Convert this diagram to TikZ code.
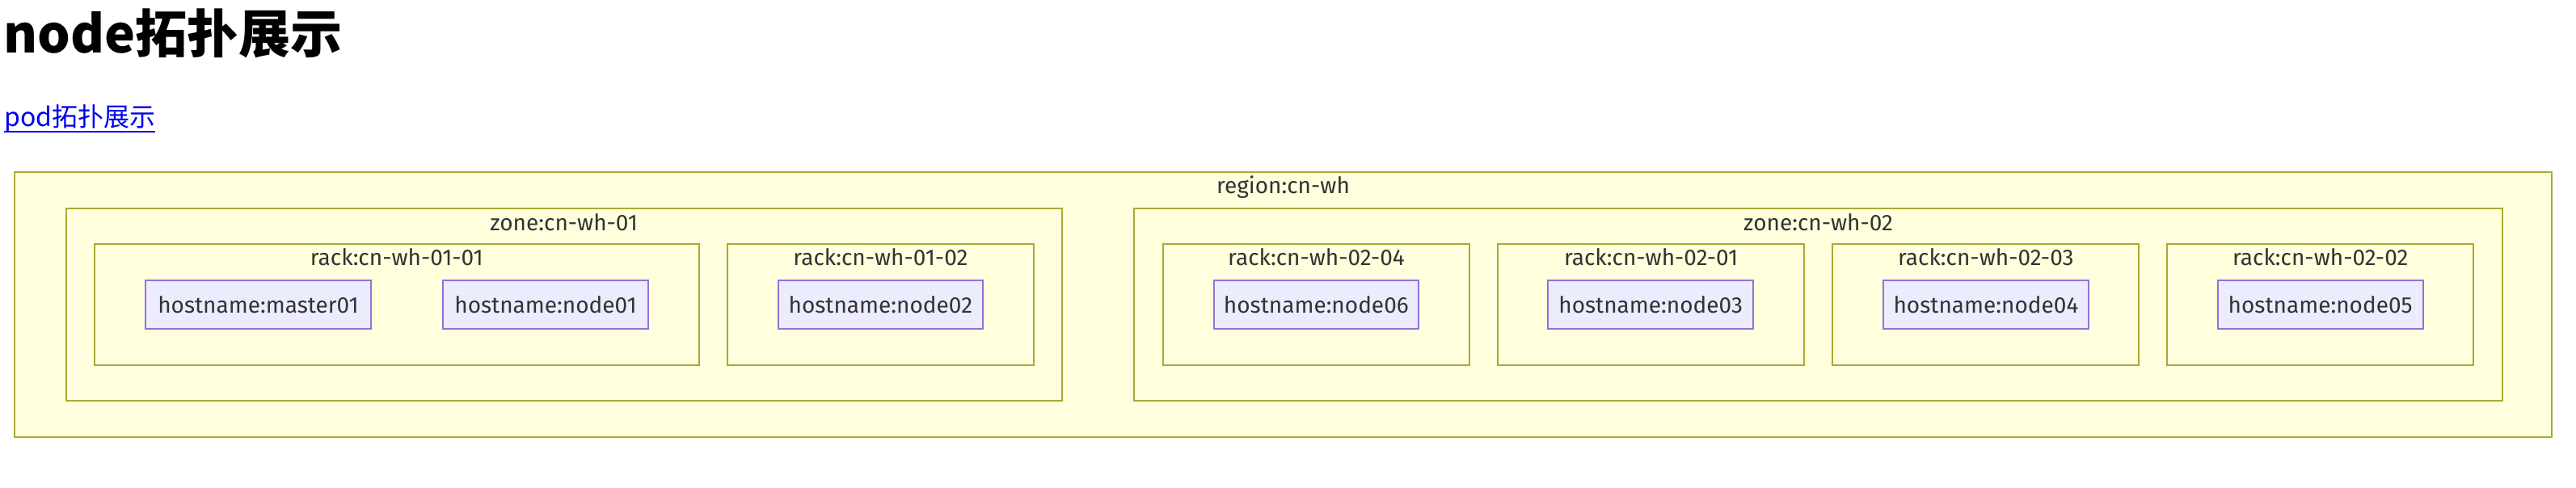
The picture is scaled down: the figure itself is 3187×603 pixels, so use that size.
\documentclass[tikz,border=0pt]{standalone}
\usepackage{fontspec}
\newfontfamily\cjk{Noto Sans CJK SC}
\newfontfamily\dfont{Fira Sans}
\definecolor{clfill}{HTML}{FFFFDE}
\definecolor{clline}{HTML}{AAAA33}
\definecolor{ndfill}{HTML}{ECECFF}
\definecolor{ndline}{HTML}{9370DB}
\definecolor{txt}{HTML}{333333}
\definecolor{lnk}{HTML}{0000EE}
\begin{document}
\begin{tikzpicture}[x=1pt,y=-1pt,
 cluster/.style={draw=clline, fill=clfill, line width=2pt, inner sep=0pt, outer sep=0pt, anchor=north west},
 rackbox/.style={cluster, minimum width=379pt, minimum height=149.4pt},
 host/.style={draw=ndline, fill=ndfill, line width=2pt, inner sep=0pt, outer sep=0pt, anchor=north west, minimum height=60.3pt, minimum width=253.7pt, text=txt, font=\dfont\fontsize{28}{34}\selectfont},
 lbl/.style={anchor=base, inner sep=0pt, text=txt, font=\dfont\fontsize{28}{34}\selectfont}]
\useasboundingbox (0,0) rectangle (3187,603);
\fill[white] (0,0) rectangle (3187,603);
% title and link
\node[anchor=base west, inner sep=0pt, font=\cjk\bfseries\fontsize{64}{70}\selectfont] (title) at (4,65.7) {node拓扑展示};
\node[anchor=base west, inner sep=0pt, text=lnk, font=\cjk\fontsize{32}{38}\selectfont] (link) at (5,156.7) {pod拓扑展示};
\draw[lnk, line width=2pt] ([yshift=-6.3pt]link.base west) -- ([yshift=-6.3pt]link.base east);
% region
\node[cluster, minimum width=3139.4pt, minimum height=327.4pt] (region) at (17.8,213.3) {};
\node[lbl] (lregion) at ([yshift=-26pt]region.north) {region:cn-wh};
% zones
\node[cluster, minimum width=1232.3pt, minimum height=238pt] (zone1) at (81.5,258) {};
\node[lbl] (lzone1) at ([yshift=-27pt]zone1.north) {zone:cn-wh-01};
\node[cluster, minimum width=1693.5pt, minimum height=238pt] (zone2) at (1402.8,258) {};
\node[lbl] (lzone2) at ([yshift=-27pt]zone2.north) {zone:cn-wh-02};
% racks
\node[rackbox, minimum width=747.4pt] (r0101) at (117.1,302.3) {};
\node[lbl] (lr0101) at ([yshift=-26pt]r0101.north) {rack:cn-wh-01-01};
\node[rackbox] (r0102) at (899.9,302.3) {};
\node[lbl] (lr0102) at ([yshift=-26pt]r0102.north) {rack:cn-wh-01-02};
\node[rackbox] (r0204) at (1439,302.3) {};
\node[lbl] (lr0204) at ([yshift=-26pt]r0204.north) {rack:cn-wh-02-04};
\node[rackbox] (r0201) at (1853.1,302.3) {};
\node[lbl] (lr0201) at ([yshift=-26pt]r0201.north) {rack:cn-wh-02-01};
\node[rackbox] (r0203) at (2267.3,302.3) {};
\node[lbl] (lr0203) at ([yshift=-26pt]r0203.north) {rack:cn-wh-02-03};
\node[rackbox] (r0202) at (2681.2,302.3) {};
\node[lbl] (lr0202) at ([yshift=-26pt]r0202.north) {rack:cn-wh-02-02};
% hosts
\node[host, minimum width=279.5pt] (master01) at (179.7,346.7) {hostname:master01};
\node[host] (node01) at (548.2,346.7) {hostname:node01};
\node[host] (node02) at (962.5,346.7) {hostname:node02};
\node[host] (node06) at (1501.5,346.7) {hostname:node06};
\node[host] (node03) at (1915.3,346.7) {hostname:node03};
\node[host] (node04) at (2330.1,346.7) {hostname:node04};
\node[host] (node05) at (2743.8,346.7) {hostname:node05};
\end{tikzpicture}
\end{document}
